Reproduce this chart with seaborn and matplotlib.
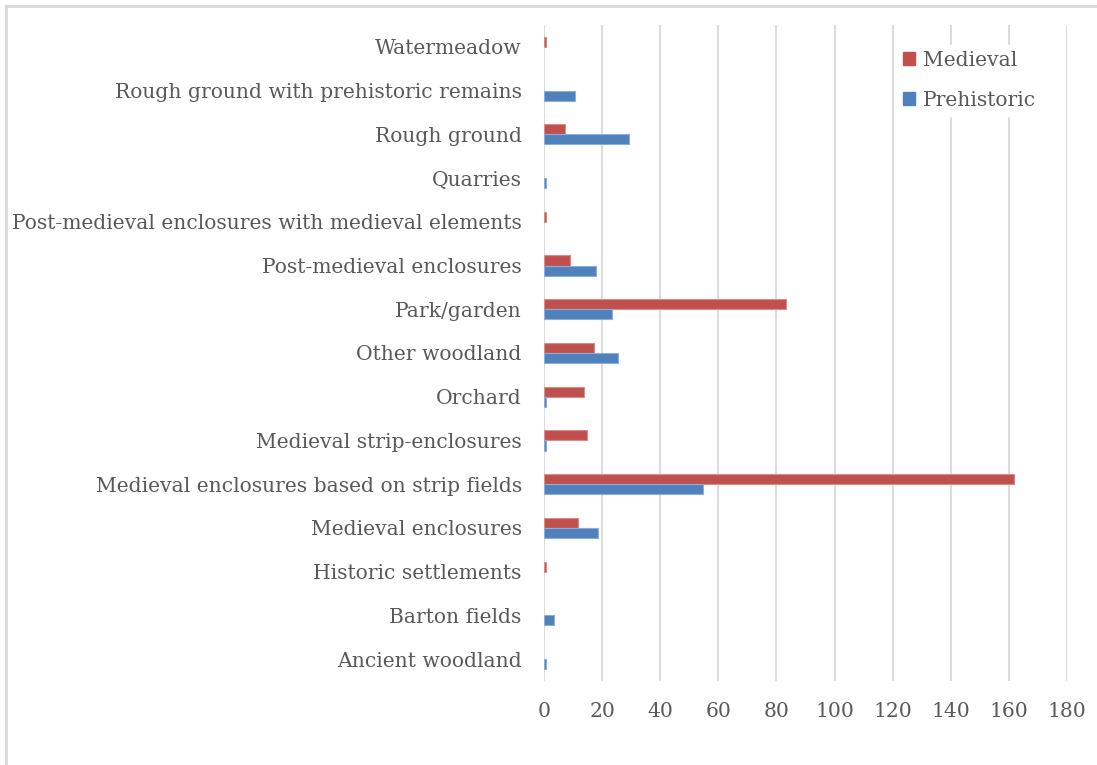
import matplotlib
matplotlib.use("Agg")
import matplotlib.pyplot as plt
from matplotlib.lines import Line2D
from matplotlib.patches import Patch
import matplotlib.colors as mcolors
import seaborn as sns
import pandas as pd

# Landscape character types, listed top to bottom
categories = [
    "Watermeadow",
    "Rough ground with prehistoric remains",
    "Rough ground",
    "Quarries",
    "Post-medieval enclosures with medieval elements",
    "Post-medieval enclosures",
    "Park/garden",
    "Other woodland",
    "Orchard",
    "Medieval strip-enclosures",
    "Medieval enclosures based on strip fields",
    "Medieval enclosures",
    "Historic settlements",
    "Barton fields",
    "Ancient woodland",
]

medieval = [0.6, 0, 7.2, 0, 0.6, 9.0, 83.4, 17.3, 13.8, 14.8, 161.6, 11.7, 0.6, 0, 0]
prehistoric = [0, 10.7, 29.3, 0.6, 0, 17.8, 23.4, 25.3, 0.6, 0.6, 54.7, 18.6, 0, 3.3, 0.6]

series_names = ["Medieval", "Prehistoric"]
series_colors = ["#C0504D", "#4F81BD"]
x_ticks = [0, 20, 40, 60, 80, 100, 120, 140, 160, 180]

df = pd.DataFrame({
    "category": categories * 2,
    "period": [series_names[0]] * len(categories) + [series_names[1]] * len(categories),
    "count": medieval + prehistoric,
})

sns.set_theme(style="white")
plt.rcParams["font.family"] = ["DejaVu Serif"]

text_color = "#595959"
grid_color = "#D9D9D9"
fs = 14.6

W, H = 1097, 765
fig = plt.figure(figsize=(W / 100, H / 100), dpi=100)
ax = fig.add_axes([544 / W, 1 - 681 / H, (1067 - 544) / W, (681 - 25) / H])

sns.barplot(
    data=df, y="category", x="count", hue="period",
    order=categories, hue_order=series_names,
    palette=series_colors, orient="h", width=0.46,
    saturation=1, legend=False, ax=ax, zorder=3, linewidth=0,
)

# thin, slightly lighter outline on each non-empty bar
for p in ax.patches:
    if p.get_width() <= 0:
        p.set_visible(False)
        continue
    fc = mcolors.to_rgb(p.get_facecolor())
    light = tuple(c + (1 - c) * 0.35 for c in fc)
    p.set_edgecolor(light)
    p.set_linewidth(0.8)

ax.set_xlim(0, 180)
ax.set_ylim(len(categories) - 0.5, -0.5)
ax.set_xticks(x_ticks)
ax.set_xticklabels([str(t) for t in x_ticks])
ax.set_xlabel("")
ax.set_ylabel("")

ax.xaxis.grid(True, color=grid_color, linewidth=1.3, zorder=0)
ax.yaxis.grid(False)
ax.set_axisbelow(True)
for s in ax.spines.values():
    s.set_visible(False)

ax.tick_params(axis="y", length=0, pad=16, labelsize=fs, labelcolor=text_color)
ax.tick_params(axis="x", length=0, pad=15, labelsize=fs, labelcolor=text_color)

handles = [Patch(facecolor=c, edgecolor=c) for c in series_colors]
leg = fig.legend(
    handles, series_names, loc="upper left",
    bbox_to_anchor=(897 / W, 1 - 45 / H), borderaxespad=0,
    fontsize=fs, labelcolor=text_color, frameon=True,
    handlelength=0.6, handleheight=0.6, handletextpad=0.4,
    labelspacing=1.02, borderpad=0.3,
)
leg.get_frame().set_edgecolor("white")
leg.get_frame().set_facecolor("white")
leg.get_frame().set_alpha(1)
leg.set_zorder(5)

# outer chart border (left and top edges)
fig.add_artist(Line2D([6 / W, 6 / W], [0, 1 - 6 / H], transform=fig.transFigure,
                      color=grid_color, linewidth=2))
fig.add_artist(Line2D([6 / W, 1], [1 - 6 / H, 1 - 6 / H], transform=fig.transFigure,
                      color=grid_color, linewidth=2))

fig.savefig("out.png", dpi=100, facecolor="white")
